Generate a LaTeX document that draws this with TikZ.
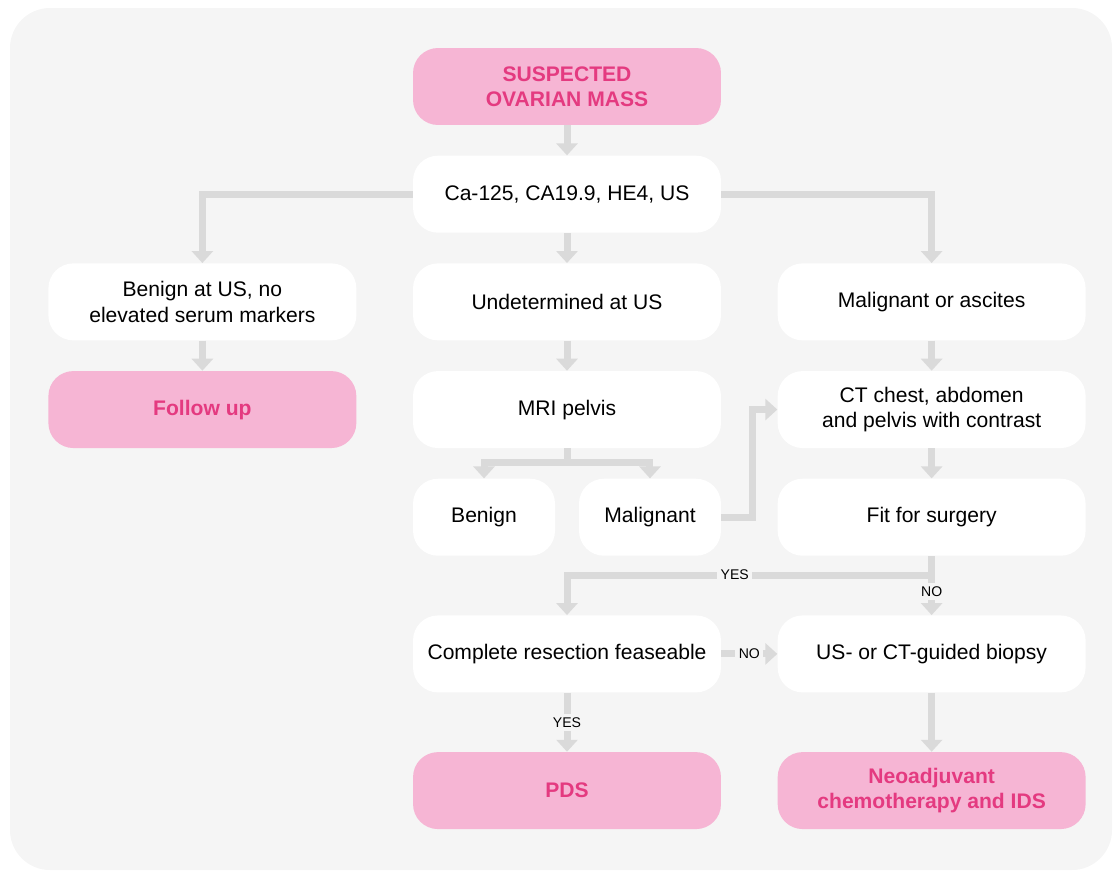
\documentclass[tikz,border=0pt]{standalone}
\usepackage{fontspec}
\setmainfont{Liberation Sans}
\usetikzlibrary{arrows.meta,positioning,calc}
\definecolor{bggray}{RGB}{245,245,245}
\definecolor{linegray}{RGB}{218,218,218}
\definecolor{pinkfill}{RGB}{246,181,212}
\definecolor{pinktext}{RGB}{228,58,128}
\tikzset{
  box/.style={rectangle, rounded corners=0.5cm, fill=white, minimum width=6.16cm,
    minimum height=1.54cm, align=center, inner sep=1pt, font=\fontsize{12}{14.5}\selectfont},
  pinkbox/.style={box, fill=pinkfill, text=pinktext, font=\fontsize{12}{14.5}\selectfont\bfseries},
  smallbox/.style={box, minimum width=2.84cm},
  link/.style={draw=linegray, line width=0.14cm, -{Triangle[width=0.42cm,length=0.24cm]}},
  answer/.style={fill=bggray, inner sep=2pt, font=\fontsize{8}{9}\selectfont}
}

\begin{document}
\begin{tikzpicture}[x=0.02cm, y=-0.02cm]
		%%%%% START %%%%%
		
		\useasboundingbox (0, 0) rectangle (1114, 873);
		\fill[bggray, rounded corners=0.8cm] (10, 8) rectangle (1112, 870);
		
		\node[pinkbox] (mass) at (567, 86.5) {SUSPECTED\\OVARIAN MASS};
		\node[box, below=0.6cm of mass] (markers) {Ca-125, CA19.9, HE4, US};
		
		\node[box, below=0.6cm of markers] (undet) {Undetermined at US};
		\node[box, left=1.12cm of undet] (benignus) {Benign at US, no\\elevated serum markers};
		\node[box, right=1.12cm of undet] (malig) {Malignant or ascites};
		
		\node[pinkbox, below=0.6cm of benignus] (followup) {Follow up};
		\node[box, below=0.6cm of undet] (mri) {MRI pelvis};
		\node[box, below=0.6cm of malig] (ct) {CT chest, abdomen\\and pelvis with contrast};
		
		\node[smallbox, below=0.6cm of mri.south west, anchor=north west] (benign) {Benign};
		\node[smallbox, below=0.6cm of mri.south east, anchor=north east] (malignant) {Malignant};
		\node[box, below=0.6cm of ct] (fit) {Fit for surgery};
		
		\node[box, below=1.18cm of fit] (biopsy) {US- or CT-guided biopsy};
		\node[box, left=1.12cm of biopsy] (resect) {Complete resection feaseable};
		
		\node[pinkbox, below=1.18cm of resect] (pds) {PDS};
		\node[pinkbox, below=1.18cm of biopsy] (neo) {Neoadjuvant\\chemotherapy and IDS};
		
		\draw[link] (mass) -- (markers);
		\draw[link] (markers.west) -| (benignus);
		\draw[link] (markers) -- (undet);
		\draw[link] (markers.east) -| (malig);
		
		\draw[link] (benignus) -- (followup);
		\draw[link] (undet) -- (mri);
		\draw[link] (malig) -- (ct);
		
		\coordinate (split) at ($(mri.south)+(0,-0.28cm)$);
		\draw[link] (mri.south) -- (split) -| (benign);
		\draw[link] (split) -| (malignant);
		\draw[link] (malignant.east) -- ++(0.62cm, 0) |- (ct.west);
		\draw[link] (ct) -- (fit);
		
		\coordinate (fork) at ($(fit.south)+(0,-0.38cm)$);
		\draw[link] (fit) -- node[answer, pos=0.6] {NO} (biopsy);
		\draw[link] (fork) -| node[answer, pos=0.27] {YES} (resect);
		\draw[link] (resect) -- node[answer] {NO} (biopsy);
		\draw[link] (resect) -- node[answer] {YES} (pds);
		\draw[link] (biopsy) -- (neo);
		
		%%%%% END %%%%%
\end{tikzpicture}
\end{document}
